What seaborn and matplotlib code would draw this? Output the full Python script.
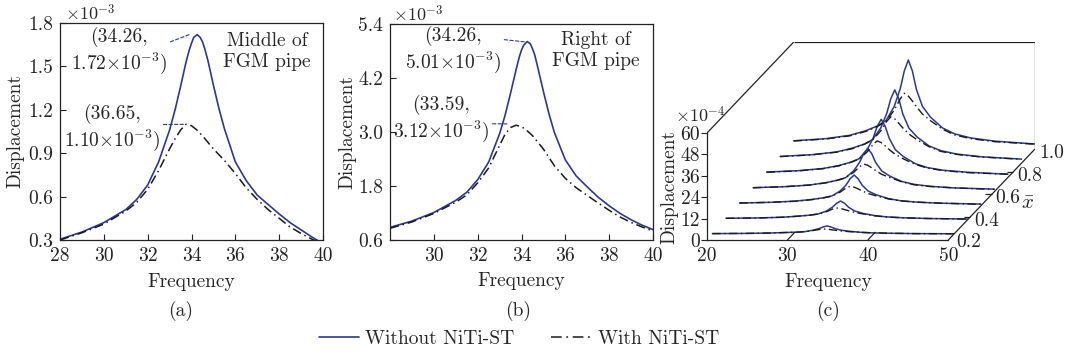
import numpy as np
import pandas as pd
import matplotlib
matplotlib.use("Agg")
import matplotlib.pyplot as plt
from matplotlib.lines import Line2D
import seaborn as sns

# ---------------- data ----------------
# (a) middle of FGM pipe, displacement x1e-3
freq_a_wo = [28, 29, 30, 31, 31.5, 32, 32.5, 33, 33.25, 33.5, 33.75, 33.9, 34.0, 34.1, 34.26,
             34.4, 34.5, 34.6, 34.75, 35.0, 35.25, 35.5, 36.0, 36.5, 37.0, 37.5, 38.0, 38.5,
             39.0, 39.5, 40.0]
disp_a_wo = [0.305, 0.355, 0.42, 0.51, 0.58, 0.68, 0.84, 1.06, 1.20, 1.36, 1.53, 1.615, 1.66, 1.70, 1.72,
             1.70, 1.67, 1.625, 1.54, 1.37, 1.21, 1.07, 0.84, 0.71, 0.61, 0.545, 0.48, 0.42,
             0.37, 0.32, 0.275]
freq_a_w = [28, 29, 30, 31, 31.5, 32, 32.5, 33.0, 33.25, 33.5, 33.75, 34.0, 34.25, 34.5, 35.0,
            35.5, 36.0, 36.5, 37.0, 37.5, 38.0, 38.5, 39.0, 39.5, 40.0]
disp_a_w = [0.30, 0.35, 0.41, 0.50, 0.56, 0.65, 0.78, 0.93, 1.00, 1.06, 1.10, 1.09, 1.06, 1.02, 0.93,
            0.85, 0.76, 0.66, 0.58, 0.51, 0.45, 0.39, 0.345, 0.305, 0.27]

# (b) right of FGM pipe, displacement x1e-3
freq_b_wo = [28, 29, 30, 31, 31.5, 32, 32.5, 33.0, 33.25, 33.5, 33.75, 33.9, 34.0, 34.1, 34.26,
             34.4, 34.5, 34.6, 34.75, 35.0, 35.25, 35.5, 36.0, 36.5, 37.0, 37.5, 38.0, 38.5,
             39.0, 39.5, 40.0]
disp_b_wo = [0.88, 1.02, 1.21, 1.48, 1.66, 1.94, 2.33, 2.96, 3.37, 3.86, 4.38, 4.67, 4.82, 4.93, 5.01,
             4.96, 4.85, 4.72, 4.42, 3.90, 3.41, 2.99, 2.38, 2.02, 1.78, 1.55, 1.36, 1.19,
             1.05, 0.93, 0.83]
freq_b_w = [28, 29, 30, 31, 31.5, 32, 32.5, 33.0, 33.25, 33.5, 33.75, 34.0, 34.25, 34.5, 35.0,
            35.5, 36.0, 36.5, 37.0, 37.5, 38.0, 38.5, 39.0, 39.5, 40.0]
disp_b_w = [0.86, 1.00, 1.19, 1.44, 1.60, 1.87, 2.20, 2.70, 2.95, 3.10, 3.15, 3.12, 3.03, 2.92, 2.62,
            2.25, 1.97, 1.76, 1.59, 1.42, 1.26, 1.11, 0.99, 0.89, 0.80]

# (c) along the pipe, displacement x1e-4
freq_c = [20, 24, 27, 29, 30.5, 31.5, 32.5, 33.25, 33.75, 34.25, 34.75, 35.25, 36, 37, 38.5,
          40, 42, 45, 50]
xbar_c = [0.25, 0.375, 0.5, 0.625, 0.75, 0.875, 1.0]
disp_c_wo = [
    [0.4, 0.5, 0.7, 1.0, 1.2, 1.5, 2.3, 3.2, 4.1, 4.7, 4.1, 3.2, 2.3, 1.7, 1.1, 0.8, 0.6, 0.4, 0.3],
    [1.0, 1.2, 1.6, 2.2, 2.8, 3.5, 5.1, 7.3, 9.4, 10.7, 9.4, 7.2, 5.1, 3.8, 2.5, 1.8, 1.3, 0.9, 0.6],
    [1.6, 2.0, 2.7, 3.6, 4.6, 5.6, 8.3, 11.7, 15.2, 17.3, 15.2, 11.6, 8.3, 6.2, 4.1, 2.9, 2.1, 1.5, 1.0],
    [2.2, 2.8, 3.7, 5.0, 6.4, 7.8, 11.6, 16.5, 21.3, 24.3, 21.3, 16.3, 11.6, 8.7, 5.7, 4.1, 3.0, 2.1, 1.4],
    [3.0, 3.8, 5.0, 6.7, 8.6, 10.5, 15.6, 22.1, 28.6, 32.6, 28.6, 21.9, 15.6, 11.7, 7.7, 5.5, 4.0, 2.9, 1.8],
    [3.8, 4.8, 6.3, 8.5, 10.8, 13.3, 19.7, 27.9, 36.1, 41.1, 36.1, 27.6, 19.7, 14.8, 9.7, 7.0, 5.1, 3.6, 2.3],
    [4.6, 5.8, 7.7, 10.3, 13.1, 16.1, 23.9, 33.9, 43.8, 49.9, 43.8, 33.5, 23.9, 17.9, 11.8, 8.5, 6.2, 4.4, 2.8],
]
disp_c_w = [
    [0.4, 0.5, 0.7, 1.0, 1.2, 1.5, 2.1, 2.7, 3.0, 2.9, 2.6, 2.3, 1.9, 1.5, 1.1, 0.8, 0.6, 0.4, 0.3],
    [1.0, 1.2, 1.6, 2.2, 2.8, 3.4, 4.7, 6.2, 6.8, 6.5, 5.9, 5.2, 4.3, 3.5, 2.4, 1.7, 1.3, 0.9, 0.6],
    [1.6, 2.0, 2.6, 3.5, 4.5, 5.5, 7.7, 10.0, 11.0, 10.5, 9.5, 8.4, 6.9, 5.6, 3.9, 2.8, 2.1, 1.5, 0.9],
    [2.2, 2.8, 3.7, 4.9, 6.4, 7.8, 10.8, 14.0, 15.5, 14.8, 13.4, 11.8, 9.7, 7.9, 5.5, 3.9, 2.9, 2.1, 1.3],
    [2.9, 3.7, 4.9, 6.5, 8.5, 10.3, 14.3, 18.6, 20.5, 19.5, 17.7, 15.6, 12.9, 10.4, 7.3, 5.2, 3.8, 2.7, 1.8],
    [3.7, 4.7, 6.2, 8.2, 10.7, 13.1, 18.1, 23.5, 26.0, 24.8, 22.4, 19.8, 16.4, 13.2, 9.3, 6.6, 4.9, 3.5, 2.2],
    [4.5, 5.6, 7.4, 9.9, 12.9, 15.7, 21.8, 28.2, 31.2, 29.7, 26.9, 23.8, 19.6, 15.9, 11.1, 7.9, 5.8, 4.1, 2.7],
]

a_xticks = [28, 30, 32, 34, 36, 38, 40]
a_yticks = [0.3, 0.6, 0.9, 1.2, 1.5, 1.8]
b_xticks = [30, 32, 34, 36, 38, 40]
b_yticks = [0.6, 1.8, 3.0, 4.2, 5.4]
c_xticks = [20, 30, 40, 50]
c_zticks = [0, 12, 24, 36, 48, 60]
c_xbar_ticks = [0.2, 0.4, 0.6, 0.8, 1.0]

lab_wo = "Without NiTi-ST"
lab_w = "With NiTi-ST"

# ---------------- style ----------------
sns.set_theme(style="ticks")
plt.rcParams["font.family"] = ["cmr10", "DejaVu Serif"]
plt.rcParams["mathtext.fontset"] = "cm"
plt.rcParams["axes.formatter.use_mathtext"] = True
plt.rcParams["axes.unicode_minus"] = False

BLUE = "#2b3990"
BLACK = "#1a1a1a"
DD = (0, (6, 2.5, 1, 2.5))
FS = 14
SPINE = "#222222"

fig = plt.figure(figsize=(10.65, 3.58), dpi=100)
W, H = 1065.0, 358.0


def box(x0, y0, x1, y1):
    return [x0 / W, 1 - y1 / H, (x1 - x0) / W, (y1 - y0) / H]


def style2d(ax):
    for s in ax.spines.values():
        s.set_color(SPINE)
        s.set_linewidth(0.9)
    ax.tick_params(direction="in", length=4, width=0.8, labelsize=FS, pad=5,
                   colors=SPINE, labelcolor="#222222", top=False, right=False)


def curves(ax, fx, fy, gx, gy):
    sns.lineplot(x=fx, y=fy, ax=ax, color=BLUE, lw=1.2, estimator=None)
    sns.lineplot(x=gx, y=gy, ax=ax, color=BLACK, lw=1.1, estimator=None, linestyle=DD)


lead = dict(arrowstyle="-", color=BLUE, lw=0.8, linestyle=(0, (3, 2)), shrinkA=0, shrinkB=0)

# ---------------- (a) ----------------
axa = fig.add_axes(box(60, 23, 323, 240))
curves(axa, freq_a_wo, disp_a_wo, freq_a_w, disp_a_w)
axa.set_xlim(28, 40)
axa.set_ylim(0.3, 1.8)
axa.set_xticks(a_xticks)
axa.set_xticklabels([str(v) for v in a_xticks])
axa.set_yticks(a_yticks)
axa.set_yticklabels([f"{v:.1f}" for v in a_yticks])
style2d(axa)
axa.set_xlabel("Frequency", fontsize=FS)
axa.set_ylabel("Displacement", fontsize=FS)
axa.xaxis.set_label_coords(0.5, -0.15)
axa.yaxis.set_label_coords(-0.135, 0.5)
axa.text(0.02, 1.0, r"$\times10^{-3}$", transform=axa.transAxes, fontsize=FS - 1,
         ha="left", va="bottom")
axa.annotate("(34.26,\n1.72" + r"$\times10^{-3}$" + ")", xy=(33.9, 1.72), xytext=(30.69, 1.60),
             ha="center", va="center", fontsize=FS, multialignment="center",
             arrowprops=dict(lead, relpos=(1.0, 0.68)))
axa.annotate("(36.65,\n1.10" + r"$\times10^{-3}$" + ")", xy=(33.7, 1.10), xytext=(30.37, 1.07),
             ha="center", va="center", fontsize=FS, multialignment="center",
             arrowprops=dict(lead, relpos=(1.0, 0.58)))
axa.text(37.44, 1.60, "Middle of\nFGM pipe", ha="center", va="center", fontsize=FS,
         multialignment="center")

# ---------------- (b) ----------------
axb = fig.add_axes(box(390, 24, 653, 240))
curves(axb, freq_b_wo, disp_b_wo, freq_b_w, disp_b_w)
axb.set_xlim(28, 40)
axb.set_ylim(0.6, 5.4)
axb.set_xticks(b_xticks)
axb.set_xticklabels([str(v) for v in b_xticks])
axb.set_yticks(b_yticks)
axb.set_yticklabels([f"{v:.1f}" for v in b_yticks])
style2d(axb)
axb.set_xlabel("Frequency", fontsize=FS)
axb.set_ylabel("Displacement", fontsize=FS)
axb.xaxis.set_label_coords(0.5, -0.15)
axb.yaxis.set_label_coords(-0.126, 0.5)
axb.text(0.01, 1.0, r"$\times10^{-3}$", transform=axb.transAxes, fontsize=FS - 1,
         ha="left", va="bottom")
axb.annotate("(34.26,\n5.01" + r"$\times10^{-3}$" + ")", xy=(34.2, 5.0), xytext=(30.87, 4.82),
             ha="center", va="center", fontsize=FS, multialignment="center",
             arrowprops=dict(lead, relpos=(1.0, 0.72)))
axb.annotate("(33.59,\n3.12" + r"$\times10^{-3}$" + ")", xy=(33.35, 3.18), xytext=(30.33, 3.27),
             ha="center", va="center", fontsize=FS, multialignment="center",
             arrowprops=dict(lead, relpos=(1.0, 0.42)))
axb.text(37.40, 4.82, "Right of\nFGM pipe", ha="center", va="center", fontsize=FS,
         multialignment="center")

# ---------------- (c) pseudo-3D (oblique projection) ----------------
X0, X1 = 20, 50          # frequency range on the front face
Z1 = 60                  # displacement range on the front face
D0, D1 = 0.2, 1.0        # depth (x-bar) range
DX, DZ = 13.48, 63.8     # projection shift per unit of x-bar (data units)
ox, oz = DX * (D1 - D0), DZ * (D1 - D0)

axc = fig.add_axes(box(707, 42, 1035, 240))
axc.set_xlim(X0, X1 + ox)
axc.set_ylim(0, Z1 + oz)

for d, row_wo, row_w in zip(xbar_c, disp_c_wo, disp_c_w):
    sx, sz = DX * (d - D0), DZ * (d - D0)
    xs = np.array(freq_c) + sx
    sns.lineplot(x=xs, y=np.array(row_wo) + sz, ax=axc, color=BLUE, lw=1.1, estimator=None)
    sns.lineplot(x=xs, y=np.array(row_w) + sz, ax=axc, color=BLACK, lw=1.0, estimator=None,
                 linestyle=DD)

for s in ["top", "right"]:
    axc.spines[s].set_visible(False)
for s in ["left", "bottom"]:
    axc.spines[s].set_color(SPINE)
    axc.spines[s].set_linewidth(0.9)
axc.spines["left"].set_bounds(0, Z1)
axc.spines["bottom"].set_bounds(X0, X1)
axc.set_xticks(c_xticks)
axc.set_xticklabels([str(v) for v in c_xticks])
axc.set_yticks(c_zticks)
axc.set_yticklabels([str(v) for v in c_zticks])
axc.tick_params(axis="x", length=0, labelsize=FS, pad=5, labelcolor="#222222")
axc.tick_params(axis="y", direction="out", length=4, width=0.8, labelsize=FS, pad=1,
                colors=SPINE, labelcolor="#222222")
# projected box edges
edge = dict(color=SPINE, lw=0.9, solid_capstyle="butt")
axc.plot([X0, X0 + ox], [Z1, Z1 + oz], **edge)
axc.plot([X0 + ox, X1 + ox], [Z1 + oz, Z1 + oz], **edge)
axc.plot([X1 + ox, X1 + ox], [Z1 + oz, oz], **edge)
axc.plot([X1, X1 + ox], [0, oz], **edge)
# slanted ticks on the frequency axis
for t in c_xticks[1:-1]:
    axc.plot([t, t + DX * 0.07], [0, DZ * 0.07], **edge)
# depth-axis ticks and labels
for t in c_xbar_ticks:
    px, pz = X1 + DX * (t - D0), DZ * (t - D0)
    if D0 < t < D1:
        axc.plot([px - 0.8, px], [pz, pz], **edge)
    off = (8, -2) if t == D0 else (4, -4)
    axc.annotate(f"{t:.1f}", xy=(px, pz), xytext=off, textcoords="offset pixels",
                 ha="left", va="center", fontsize=FS, color="#222222", annotation_clip=False)
axc.annotate(r"$\bar{x}$", xy=(X1 + DX * (0.6 - D0), DZ * (0.6 - D0)), xytext=(36, -10),
             textcoords="offset pixels", ha="center", va="center", fontsize=FS + 1,
             annotation_clip=False)
axc.set_xlabel("Frequency", fontsize=FS)
axc.set_ylabel("Displacement", fontsize=FS)
axc.xaxis.set_label_coords((828 - 707) / 328, -0.165)
axc.yaxis.set_label_coords(-0.088, 0.27)
axc.text(-0.098, 0.63, r"$\times10^{-4}$", transform=axc.transAxes, fontsize=FS - 1,
         ha="left", va="center")

# ---------------- panel letters & legend ----------------
for xc, lab in [(181, "(a)"), (518, "(b)"), (828, "(c)")]:
    fig.text(xc / W, 1 - 311 / H, lab, ha="center", va="center", fontsize=FS)

handles = [Line2D([], [], color=BLUE, lw=1.2),
           Line2D([], [], color=BLACK, lw=1.1, linestyle=(0, (7, 3, 1.2, 3)))]
fig.legend(handles, [lab_wo, lab_w], loc="center", bbox_to_anchor=(519 / W, 1 - 339 / H),
           ncol=2, frameon=False, fontsize=FS, handlelength=2.1, handletextpad=0.3,
           columnspacing=1.9)

fig.savefig("out.png", dpi=100, facecolor="white")
